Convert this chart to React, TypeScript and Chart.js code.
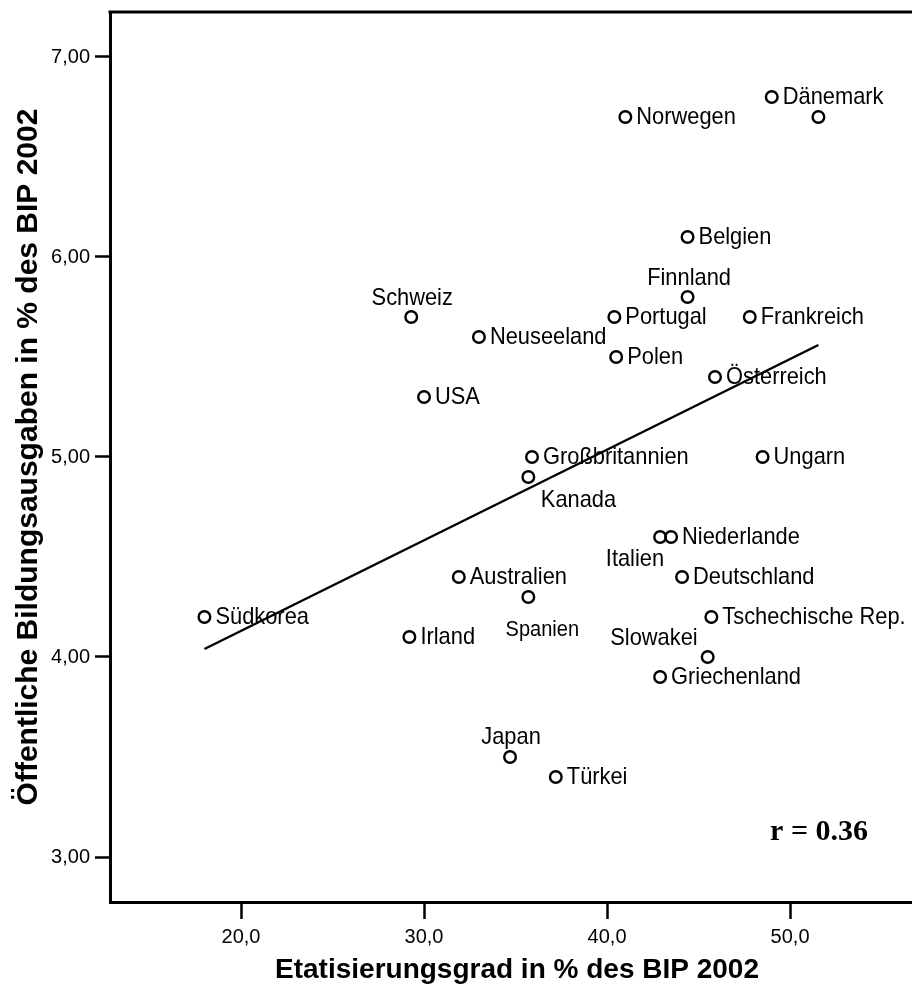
import React, { useEffect, useRef } from 'react';
import { Chart, registerables } from 'chart.js';

Chart.register(...registerables);

// ---- data ----
const countries = [
  'Südkorea', 'Irland', 'Schweiz', 'USA', 'Australien', 'Neuseeland', 'Japan', 'Spanien',
  'Kanada', 'Großbritannien', 'Türkei', 'Portugal', 'Polen', 'Norwegen', 'Italien',
  'Griechenland', 'Niederlande', 'Deutschland', 'Finnland', 'Belgien', 'Slowakei',
  'Tschechische Rep.', 'Österreich', 'Frankreich', 'Ungarn', 'Dänemark', '',
];
const etatisierung = [
  18.0, 29.2, 29.3, 30.0, 31.9, 33.0, 34.7, 35.7,
  35.7, 35.9, 37.2, 40.4, 40.5, 41.0, 42.9,
  42.9, 43.5, 44.1, 44.4, 44.4, 45.5,
  45.7, 45.9, 47.8, 48.5, 49.0, 51.55,
];
const bildung = [
  4.2, 4.1, 5.7, 5.3, 4.4, 5.6, 3.5, 4.3,
  4.9, 5.0, 3.4, 5.7, 5.5, 6.7, 4.6,
  3.9, 4.6, 4.4, 5.8, 6.1, 4.0,
  4.2, 5.4, 5.7, 5.0, 6.8, 6.7,
];
const fitX = [18.0, 51.55];
const fitY = [4.04, 5.56];
const xTicks = [20, 30, 40, 50];
const yTicks = [3, 4, 5, 6, 7];
const xTitle = 'Etatisierungsgrad in % des BIP 2002';
const yTitle = 'Öffentliche Bildungsausgaben in % des BIP 2002';
const rText = 'r = 0.36';
const rPos = [48.91, 3.085];

// ---- style / layout ----
const FAMILY = "'Liberation Sans', Arial, Helvetica, sans-serif";
const LABEL_SIZE = 24;
const LABEL_SQUEEZE = 0.91;
type LL = { align: CanvasTextAlign; base: CanvasTextBaseline; dx: number; dy: number; size?: number };
const defaultLabel: LL = { align: 'left', base: 'middle', dx: 11, dy: 0.5 };
const labelLayout: Record<string, LL> = {
  Schweiz: { align: 'center', base: 'alphabetic', dx: 1, dy: -12.5 },
  Finnland: { align: 'center', base: 'alphabetic', dx: 1.5, dy: -12.5 },
  Japan: { align: 'center', base: 'alphabetic', dx: 1, dy: -13 },
  Kanada: { align: 'left', base: 'alphabetic', dx: 12.5, dy: 29.5 },
  Spanien: { align: 'center', base: 'alphabetic', dx: 14, dy: 38.7, size: 22 },
  Italien: { align: 'right', base: 'alphabetic', dx: 4, dy: 28.7 },
  Slowakei: { align: 'right', base: 'alphabetic', dx: -10, dy: -12.3 },
};

const overlayPlugin = {
  id: 'overlay',
  afterDraw(chart: any) {
    const { ctx, chartArea: a, scales } = chart;
    ctx.save();
    ctx.strokeStyle = '#000';
    ctx.lineWidth = 3;
    ctx.beginPath();
    ctx.moveTo(a.left - 1.5, a.top);
    ctx.lineTo(a.right, a.top);
    ctx.lineTo(a.right, a.bottom);
    ctx.stroke();

    ctx.fillStyle = '#000';
    const meta = chart.getDatasetMeta(0);
    meta.data.forEach((pt: any, i: number) => {
      const name = countries[i];
      if (!name) return;
      const L = labelLayout[name] || defaultLabel;
      ctx.save();
      ctx.translate(pt.x + L.dx, pt.y + L.dy);
      ctx.scale(LABEL_SQUEEZE, 1);
      ctx.font = `${L.size ?? LABEL_SIZE}px ${FAMILY}`;
      ctx.textAlign = L.align;
      ctx.textBaseline = L.base;
      ctx.fillText(name, 0, 0);
      ctx.restore();
    });

    ctx.font = "bold 30px 'Liberation Serif', 'Times New Roman', serif";
    ctx.textAlign = 'left';
    ctx.textBaseline = 'alphabetic';
    ctx.fillText(rText, scales.x.getPixelForValue(rPos[0]), scales.y.getPixelForValue(rPos[1]));
    ctx.restore();
  },
};

export default function App() {
  const ref = useRef<HTMLCanvasElement | null>(null);

  useEffect(() => {
    if (!ref.current) return;
    const chart = new Chart(ref.current, {
      type: 'scatter',
      data: {
        datasets: [
          {
            data: etatisierung.map((x, i) => ({ x, y: bildung[i] })),
            pointStyle: 'circle',
            pointRadius: 5.8,
            pointBorderWidth: 2.4,
            pointBorderColor: '#000',
            pointBackgroundColor: 'rgba(0,0,0,0)',
            showLine: false,
          },
          {
            data: fitX.map((x, i) => ({ x, y: fitY[i] })),
            showLine: true,
            borderColor: '#000',
            borderWidth: 2.5,
            pointRadius: 0,
            fill: false,
          },
        ],
      },
      options: {
        responsive: false,
        animation: false,
        layout: { padding: { top: 12, right: 12, bottom: 0, left: 0 } },
        plugins: { legend: { display: false }, tooltip: { enabled: false } },
        scales: {
          x: {
            type: 'linear',
            position: 'bottom',
            min: 12.84,
            max: 57.32,
            afterBuildTicks: (s: any) => { s.ticks = xTicks.map((v) => ({ value: v })); },
            afterFit: (s: any) => { s.height = 85; s.paddingLeft = 0; s.paddingRight = 0; },
            ticks: {
              callback: (v: any) => Number(v).toFixed(1).replace('.', ','),
              font: { family: FAMILY, size: 20 },
              color: '#000',
              padding: 6,
              autoSkip: false,
              maxRotation: 0,
            },
            grid: { display: true, drawOnChartArea: false, drawTicks: true, tickLength: 17, tickWidth: 2.5, tickColor: '#000', color: '#000' },
            border: { display: true, color: '#000', width: 3 },
            title: { display: true, text: xTitle, color: '#000', font: { family: FAMILY, size: 28, weight: 'bold' }, padding: { top: 0, bottom: 0 } },
          },
          y: {
            type: 'linear',
            position: 'left',
            min: 2.775,
            max: 7.225,
            afterBuildTicks: (s: any) => { s.ticks = yTicks.map((v) => ({ value: v })); },
            afterFit: (s: any) => { s.width = 110; s.paddingTop = 0; s.paddingBottom = 0; },
            ticks: {
              callback: (v: any) => Number(v).toFixed(2).replace('.', ','),
              font: { family: FAMILY, size: 20 },
              color: '#000',
              padding: 5,
              autoSkip: false,
            },
            grid: { display: true, drawOnChartArea: false, drawTicks: true, tickLength: 15, tickWidth: 2.5, tickColor: '#000', color: '#000' },
            border: { display: true, color: '#000', width: 3 },
            title: { display: true, text: yTitle, color: '#000', font: { family: FAMILY, size: 30, weight: 'bold' }, padding: { top: 11, bottom: 0 } },
          },
        },
      } as any,
      plugins: [overlayPlugin],
    });
    return () => chart.destroy();
  }, []);

  return (
    <div style={{ position: 'fixed', left: 0, top: 0, width: 912, height: 987, overflow: 'hidden', background: '#fff' }}>
      <canvas ref={ref} width={936} height={987} style={{ display: 'block' }} />
    </div>
  );
}
